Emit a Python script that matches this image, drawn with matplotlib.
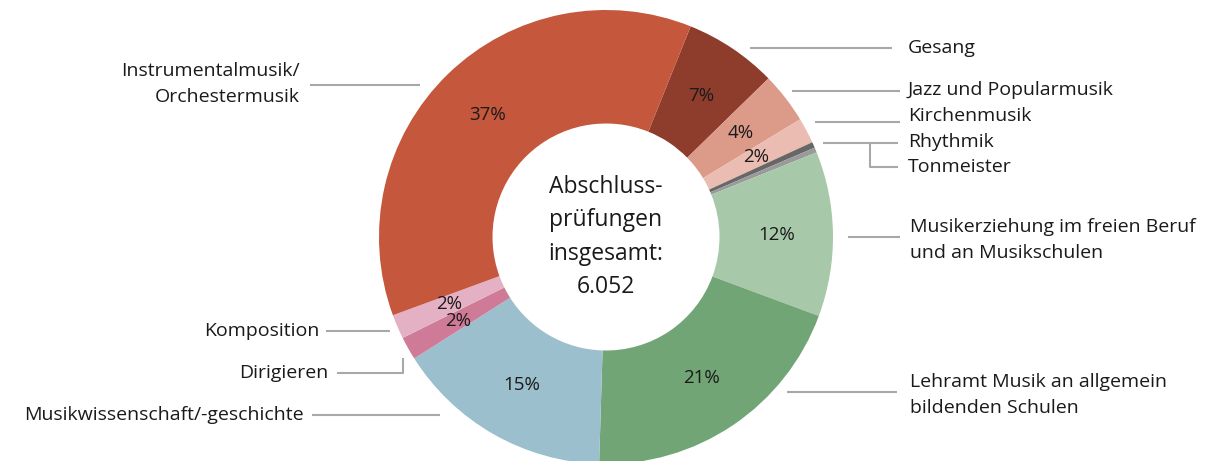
import matplotlib.pyplot as plt

# Abschlussprüfungen nach Studienbereich (clockwise, starting at Gesang)
categories = ["Gesang", "Jazz und Popularmusik", "Kirchenmusik", "Rhythmik", "Tonmeister",
              "Musikerziehung im freien Beruf\nund an Musikschulen",
              "Lehramt Musik an allgemein\nbildenden Schulen",
              "Musikwissenschaft/-geschichte", "Dirigieren", "Komposition",
              "Instrumentalmusik/\nOrchestermusik"]
counts = [400, 220, 110, 25, 22, 710, 1200, 940, 100, 105, 2220]
pct_labels = ["7%", "4%", "2%", "", "", "12%", "21%", "15%", "2%", "2%", "37%"]
colors = ["#8e3c2c", "#dc9a89", "#ebbdb2", "#676767", "#9a9a9a", "#a8c8aa",
          "#72a575", "#9bbfcd", "#cf7b98", "#e4b0c3", "#c4573c"]
total_label = "Abschluss-\nprüfungen\ninsgesamt:\n6.052"

plt.rcParams['font.family'] = ['Open Sans', 'DejaVu Sans']

W, H = 1216, 461
fig = plt.figure(figsize=(W / 100, H / 100), dpi=100)
ax = fig.add_axes([0, 0, 1, 1])

cx, cy, R = 606, H - 237, 227

wedges, texts, autotexts = ax.pie(
    counts, colors=colors, startangle=68.1, counterclock=False,
    center=(cx, cy), radius=R, autopct=lambda p: "", pctdistance=0.75,
    wedgeprops=dict(width=R * 0.5, linewidth=0),
    textprops=dict(fontsize=13.5, color="#1a1a1a"))
for t, s in zip(autotexts, pct_labels):
    t.set_text(s)

ax.text(cx, cy, total_label, ha='center', va='center', fontsize=16.5,
        color="#1a1a1a", linespacing=1.52)

line_kw = dict(color="#a8a8a8", lw=1.5, solid_capstyle='butt')
lab_kw = dict(fontsize=14, color="#1a1a1a", va='center')


def y(v):
    return H - v


# right side labels
ax.plot([750, 892], [y(48), y(48)], **line_kw)
ax.text(908, y(48), categories[0], ha='left', **lab_kw)
ax.plot([792, 900], [y(91), y(91)], **line_kw)
ax.text(908, y(90), categories[1], ha='left', **lab_kw)
ax.plot([815, 900], [y(122), y(122)], **line_kw)
ax.text(908, y(116), categories[2], ha='left', **lab_kw)
ax.plot([823, 898], [y(143), y(143)], **line_kw)
ax.plot([870, 870, 898], [y(143), y(167), y(167)], **line_kw)
ax.text(908, y(142), categories[3], ha='left', **lab_kw)
ax.text(908, y(167), categories[4], ha='left', **lab_kw)
ax.plot([848, 900], [y(237), y(237)], **line_kw)
ax.text(910, y(240), categories[5], ha='left', linespacing=1.55, **lab_kw)
ax.plot([787, 897], [y(392), y(392)], **line_kw)
ax.text(910, y(395), categories[6], ha='left', linespacing=1.55, **lab_kw)

# left side labels
ax.plot([312, 440], [y(415), y(415)], **line_kw)
ax.text(304, y(415), categories[7], ha='right', **lab_kw)
ax.plot([337, 403, 403], [y(373), y(373), y(358)], **line_kw)
ax.text(328, y(373), categories[8], ha='right', **lab_kw)
ax.plot([326, 390], [y(331), y(331)], **line_kw)
ax.text(320, y(331), categories[9], ha='right', **lab_kw)
ax.plot([310, 420], [y(85), y(85)], **line_kw)
ax.text(300, y(84), categories[10], ha='right', multialignment='right',
        linespacing=1.55, **lab_kw)

ax.set_xlim(0, W)
ax.set_ylim(0, H)
ax.set_aspect('equal')
ax.axis('off')

fig.savefig("out.png", dpi=100)
